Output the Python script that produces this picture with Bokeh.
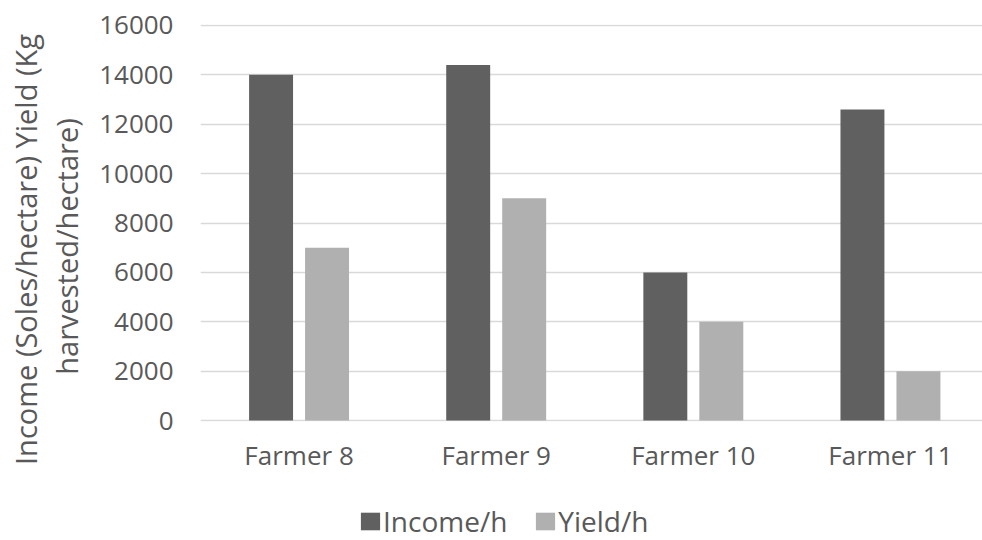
import math
from bokeh.plotting import figure
from bokeh.layouts import column, row
from bokeh.models import ColumnDataSource, Range1d, FixedTicker, Legend, LegendItem, Label
from bokeh.embed import file_html
from bokeh.resources import INLINE

farmers = ["Farmer 8", "Farmer 9", "Farmer 10", "Farmer 11"]
income = [14000, 14400, 6000, 12600]
yield_h = [7000, 9000, 4000, 2000]
y_ticks = [0, 2000, 4000, 6000, 8000, 10000, 12000, 14000, 16000]
series_names = ["Income/h", "Yield/h"]
title_lines = ["Income (Soles/hectare) Yield (Kg", "harvested/hectare)"]

TEXT = "#595959"
C_INC = "#606060"
C_YLD = "#b0b0b0"
FONT = "Open Sans"


def no_align(fig):
    try:
        fig.frame_align = False
    except Exception:
        pass


idx = list(range(len(farmers)))
src = ColumnDataSource(dict(
    xi=[i - 0.142 for i in idx],
    xy=[i + 0.142 for i in idx],
    income=income, yld=yield_h))

# ---- axis title strip (left) ----
t = figure(width=90, height=480, output_backend="svg", toolbar_location=None,
           x_range=Range1d(0, 90), y_range=Range1d(0, 480),
           x_axis_type=None, y_axis_type=None,
           min_border=0, min_border_left=0, min_border_right=0, min_border_top=0, min_border_bottom=0)
no_align(t)
t.grid.visible = False
t.outline_line_color = None
for line, xc, yc in zip(title_lines, [25, 66], [231, 234]):
    t.add_layout(Label(x=xc, y=yc, text=line, angle=math.pi / 2, text_align="center",
                       text_baseline="middle", text_font=FONT, text_font_size="29px",
                       text_color=TEXT))

# ---- main chart ----
p = figure(width=892, height=480, output_backend="svg", toolbar_location=None,
           x_range=Range1d(-0.5, 3.467), y_range=Range1d(-40, 16040),
           min_border_left=110, min_border_right=0, min_border_top=24, min_border_bottom=59)
p.outline_line_color = None
p.background_fill_color = "white"
p.border_fill_color = "white"

p.vbar(x="xi", top="income", bottom=0, width=0.223, source=src, fill_color=C_INC, line_color=None)
p.vbar(x="xy", top="yld", bottom=0, width=0.223, source=src, fill_color=C_YLD, line_color=None)

p.xgrid.grid_line_color = None
p.ygrid.grid_line_color = "#d9d9d9"
p.ygrid.grid_line_width = 1.5
p.ygrid.ticker = FixedTicker(ticks=y_ticks)
p.ygrid.level = "underlay"

p.yaxis.ticker = FixedTicker(ticks=y_ticks)
p.yaxis.axis_line_color = None
p.yaxis.major_tick_line_color = None
p.yaxis.minor_tick_line_color = None
p.yaxis.major_tick_out = 0
p.yaxis.major_label_standoff = 27
p.yaxis.major_label_text_font = FONT
p.yaxis.major_label_text_font_size = "26px"
p.yaxis.major_label_text_color = TEXT

p.xaxis.ticker = FixedTicker(ticks=idx)
p.xaxis.major_label_overrides = {i: f for i, f in zip(idx, farmers)}
p.xaxis.axis_line_color = None
p.xaxis.major_tick_line_color = None
p.xaxis.minor_tick_line_color = None
p.xaxis.major_tick_out = 0
p.xaxis.major_label_standoff = 15
p.xaxis.major_label_text_font = FONT
p.xaxis.major_label_text_font_size = "26px"
p.xaxis.major_label_text_color = TEXT

# ---- legend strip (bottom) ----
lg = figure(width=982, height=60, output_backend="svg", toolbar_location=None,
            x_range=Range1d(0, 1), y_range=Range1d(0, 1),
            x_axis_type=None, y_axis_type=None,
            min_border=0, min_border_left=0, min_border_right=0, min_border_top=0, min_border_bottom=0)
no_align(lg)
lg.grid.visible = False
lg.outline_line_color = None
hidden = dict(x=[float("nan")], top=[float("nan")])
g1 = lg.vbar(x="x", top="top", width=0.1, source=ColumnDataSource(hidden), fill_color=C_INC, line_color=None)
g2 = lg.vbar(x="x", top="top", width=0.1, source=ColumnDataSource(hidden), fill_color=C_YLD, line_color=None)
legend = Legend(items=[LegendItem(label=series_names[0], renderers=[g1]),
                       LegendItem(label=series_names[1], renderers=[g2])],
                orientation="horizontal", location=(358, 0),
                glyph_width=24, glyph_height=22, label_text_font=FONT,
                label_text_font_size="28px", label_text_color=TEXT,
                label_standoff=1, spacing=26, padding=0, margin=0,
                border_line_color=None, background_fill_alpha=0)
lg.add_layout(legend, "center")

layout = column(row(t, p, spacing=0), lg, spacing=0)
open("out.html", "w").write(file_html(layout, INLINE))
